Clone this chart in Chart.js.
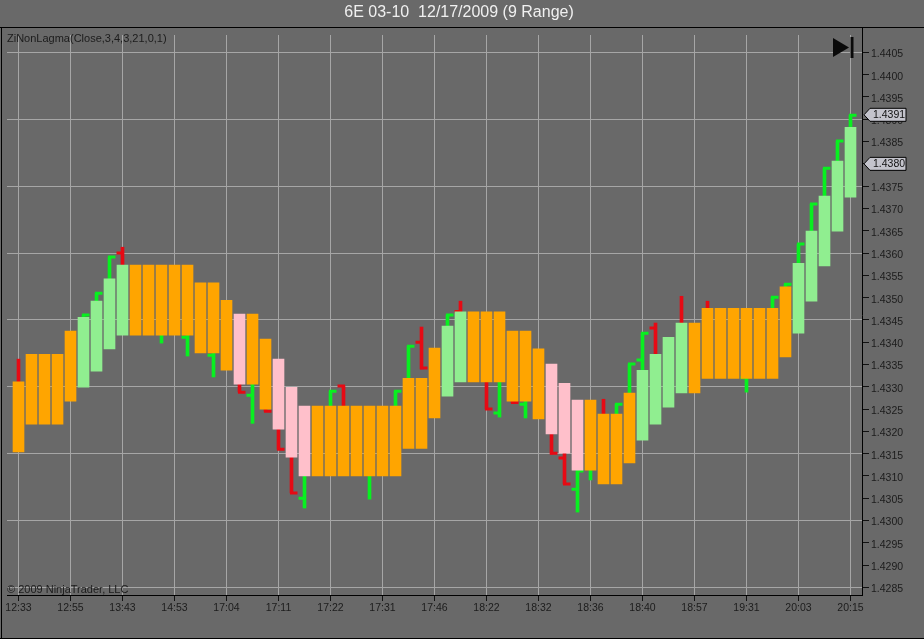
<!DOCTYPE html>
<html>
<head>
<meta charset="utf-8">
<title>6E 03-10</title>
<script src="https://cdn.jsdelivr.net/npm/chart.js@4"></script>
<style>
html, body { margin: 0; padding: 0; background: #696969; overflow: hidden; }
canvas { display: block; }
</style>
</head>
<body>
<canvas id="meuGrafico" width="924" height="639"></canvas>
<script>
// Rotulos do eixo do tempo (um a cada 4 barras)
const timeLabels = ["12:33", "12:55", "13:43", "14:53", "17:04", "17:11", "17:22", "17:31", "17:46",
    "18:22", "18:32", "18:36", "18:40", "18:57", "19:31", "20:03", "20:15"];

// Corpo das barras: topo, base e tipo (O laranja, G verde, P rosa)
const bodyHigh = [1.43311, 1.43373, 1.43373, 1.43373, 1.43425, 1.43456, 1.43492, 1.43542, 1.43573, 1.43573,
    1.43573, 1.43573, 1.43573, 1.43573, 1.43533, 1.43533, 1.43494, 1.43463, 1.43463, 1.43407,
    1.43362, 1.43299, 1.43257, 1.43257, 1.43257, 1.43257, 1.43257, 1.43257, 1.43257, 1.43257,
    1.43319, 1.43319, 1.43387, 1.43436, 1.43468, 1.43468, 1.43468, 1.43468, 1.43425, 1.43425,
    1.43385, 1.43351, 1.43308, 1.43270, 1.43270, 1.43239, 1.43239, 1.43286, 1.43337, 1.43373,
    1.43411, 1.43443, 1.43443, 1.43476, 1.43476, 1.43476, 1.43476, 1.43476, 1.43476, 1.43524,
    1.43577, 1.43649, 1.43728, 1.43806, 1.43882];
const bodyLow = [1.43154, 1.43216, 1.43216, 1.43216, 1.43268, 1.43299, 1.43335, 1.43385, 1.43416, 1.43416,
    1.43416, 1.43416, 1.43416, 1.43416, 1.43376, 1.43376, 1.43337, 1.43306, 1.43306, 1.43250,
    1.43205, 1.43142, 1.43100, 1.43100, 1.43100, 1.43100, 1.43100, 1.43100, 1.43100, 1.43100,
    1.43162, 1.43162, 1.43230, 1.43279, 1.43311, 1.43311, 1.43311, 1.43311, 1.43268, 1.43268,
    1.43228, 1.43194, 1.43151, 1.43113, 1.43113, 1.43082, 1.43082, 1.43129, 1.43180, 1.43216,
    1.43254, 1.43286, 1.43286, 1.43319, 1.43319, 1.43319, 1.43319, 1.43319, 1.43319, 1.43367,
    1.43420, 1.43492, 1.43571, 1.43649, 1.43725];
const bodyKind = ["O", "O", "O", "O", "O", "G", "G", "G", "G", "O",
    "O", "O", "O", "O", "O", "O", "O", "P", "O", "O",
    "P", "P", "P", "O", "O", "O", "O", "O", "O", "O",
    "O", "O", "O", "G", "G", "O", "O", "O", "O", "O",
    "O", "P", "P", "P", "O", "O", "O", "O", "G", "G",
    "G", "G", "O", "O", "O", "O", "O", "O", "O", "O",
    "G", "G", "G", "G", "G"];

// Indicador verde: trechos verticais
const greenWickBar = [5, 6, 7, 11, 13, 15, 18, 22, 24, 27, 29, 30, 33, 37, 39, 43, 44, 46, 47, 48, 56, 58, 59, 60, 61, 62, 63, 64];
const greenWickHigh = [1.43461, 1.43510, 1.43591, 1.43416, 1.43416, 1.43376, 1.43306, 1.43100, 1.43290, 1.43100,
    1.43290, 1.43391, 1.43461, 1.43311, 1.43268, 1.43113, 1.43113, 1.43261, 1.43351, 1.43420,
    1.43319, 1.43501, 1.43530, 1.43620, 1.43710, 1.43790, 1.43851, 1.43909];
const greenWickLow = [1.43456, 1.43492, 1.43542, 1.43398, 1.43369, 1.43322, 1.43218, 1.43028, 1.43257, 1.43048,
    1.43257, 1.43319, 1.43436, 1.43232, 1.43230, 1.43019, 1.43091, 1.43239, 1.43286, 1.43337,
    1.43288, 1.43476, 1.43524, 1.43577, 1.43649, 1.43728, 1.43806, 1.43882];

// Indicador vermelho: trechos verticais
const redWickBar = [0, 8, 17, 19, 20, 21, 25, 31, 34, 36, 38, 41, 42, 45, 49, 51, 53];
const redWickHigh = [1.43362, 1.43613, 1.43306, 1.43250, 1.43205, 1.43142, 1.43302, 1.43434, 1.43492, 1.43311,
    1.43268, 1.43194, 1.43151, 1.43272, 1.43443, 1.43503, 1.43492];
const redWickLow = [1.43311, 1.43573, 1.43288, 1.43245, 1.43160, 1.43062, 1.43257, 1.43340, 1.43468, 1.43250,
    1.43264, 1.43149, 1.43082, 1.43239, 1.43373, 1.43443, 1.43476];

// Pequenos tracos horizontais do indicador
const greenRightBar = [5, 6, 7, 24, 29, 30, 33, 43, 46, 47, 48, 58, 59, 60, 61, 62, 63, 64];
const greenRightPrice = [1.43461, 1.43510, 1.43591, 1.43290, 1.43290, 1.43391, 1.43461, 1.43111, 1.43261, 1.43351,
    1.43420, 1.43501, 1.43530, 1.43620, 1.43710, 1.43790, 1.43851, 1.43909];
const greenLeftBar = [13, 15, 18, 22, 37, 39, 43, 48, 56];
const greenLeftPrice = [1.43411, 1.43371, 1.43281, 1.43050, 1.43241, 1.43261, 1.43070, 1.43360, 1.43320];
const redRightBar = [17, 19, 20, 21, 31, 36, 38, 41, 42];
const redRightPrice = [1.43288, 1.43245, 1.43160, 1.43062, 1.43342, 1.43250, 1.43265, 1.43151, 1.43082];
const redLeftBar = [8, 25, 31, 34, 42, 49];
const redLeftPrice = [1.43600, 1.43302, 1.43400, 1.43469, 1.43140, 1.43432];

// Etiquetas de preco no eixo
const priceMarkers = [1.4391, 1.4380];

const kindColor = { O: "#ffa500", G: "#90ee90", P: "#ffc0cb" };
const greenLine = "#08f020";
const redLine = "#e60a14";

function wickPoints(bars, highs, lows) {
    return bars.map((b, i) => ({ x: b, y: [lows[i], highs[i]] }));
}

// cada traco sai da barra para a direita ou esquerda, cobrindo a largura do trecho vertical
function flagPoints(bars, prices, side) {
    const pts = [];
    bars.forEach((b, i) => {
        pts.push({ x: b - side * 0.115, y: prices[i] }, { x: b + side * 0.46, y: prices[i] }, { x: NaN, y: NaN });
    });
    return pts;
}

function flagDataset(bars, prices, side, color) {
    return {
        type: "line",
        data: flagPoints(bars, prices, side),
        borderColor: color,
        borderWidth: 3,
        pointRadius: 0,
        spanGaps: false,
        order: 3
    };
}

function drawMarker(ctx, y, text) {
    ctx.beginPath();
    ctx.moveTo(864, y);
    ctx.lineTo(870, y - 6.5);
    ctx.lineTo(906, y - 6.5);
    ctx.lineTo(906, y + 6.5);
    ctx.lineTo(870, y + 6.5);
    ctx.closePath();
    ctx.fillStyle = "#c4c4cc";
    ctx.fill();
    ctx.strokeStyle = "#000";
    ctx.lineWidth = 1;
    ctx.stroke();
    ctx.fillStyle = "#111";
    ctx.font = "10.5px 'Liberation Sans'";
    ctx.textAlign = "left";
    ctx.textBaseline = "middle";
    ctx.fillText(text, 873, y + 0.5);
}

// Moldura, titulo e textos da janela do grafico
const janela = {
    id: "janela",
    beforeDraw(chart) {
        const ctx = chart.ctx;
        ctx.save();
        ctx.fillStyle = "#696969";
        ctx.fillRect(0, 0, 924, 639);
        ctx.fillStyle = "#000";
        ctx.fillRect(0, 27, 924, 1);
        ctx.fillRect(1, 27, 1, 612);
        ctx.fillRect(0, 638, 924, 1);
        ctx.fillRect(862, 27, 1, 8);
        ctx.restore();
    },
    afterDraw(chart) {
        const ctx = chart.ctx;
        ctx.save();
        ctx.fillStyle = "#f0f0f0";
        ctx.font = "16px 'Liberation Sans'";
        ctx.textAlign = "center";
        ctx.textBaseline = "middle";
        ctx.fillText("6E 03-10  12/17/2009 (9 Range)", 459, 13);

        ctx.fillStyle = "#1c1c1c";
        ctx.font = "11px 'Liberation Sans'";
        ctx.textAlign = "left";
        ctx.fillText("ZiNonLagma(Close,3,4,3,21,0,1)", 7, 39);
        ctx.fillText("\u00a9 2009 NinjaTrader, LLC", 7, 589.5);

        // icone de ir para o fim
        ctx.fillStyle = "#0a0a0a";
        ctx.beginPath();
        ctx.moveTo(833, 38);
        ctx.lineTo(849, 47.5);
        ctx.lineTo(833, 57);
        ctx.closePath();
        ctx.fill();
        ctx.fillRect(850.5, 37, 3, 21);

        priceMarkers.forEach(p => drawMarker(ctx, chart.scales.y.getPixelForValue(p), p.toFixed(4)));
        ctx.restore();
    }
};

const grafico = new Chart(document.getElementById("meuGrafico"), {
    type: "bar",
    data: {
        datasets: [
            {
                data: bodyHigh.map((h, i) => ({ x: i, y: [bodyLow[i], h] })),
                backgroundColor: bodyKind.map(k => kindColor[k]),
                barThickness: 11,
                grouped: false,
                order: 1
            },
            {
                data: wickPoints(greenWickBar, greenWickHigh, greenWickLow),
                backgroundColor: greenLine,
                barThickness: 3,
                grouped: false,
                order: 2
            },
            {
                data: wickPoints(redWickBar, redWickHigh, redWickLow),
                backgroundColor: redLine,
                barThickness: 3,
                grouped: false,
                order: 2
            },
            flagDataset(greenRightBar, greenRightPrice, 1, greenLine),
            flagDataset(greenLeftBar, greenLeftPrice, -1, greenLine),
            flagDataset(redRightBar, redRightPrice, 1, redLine),
            flagDataset(redLeftBar, redLeftPrice, -1, redLine)
        ]
    },
    plugins: [janela],
    options: {
        responsive: false,
        animation: false,
        devicePixelRatio: 1,
        layout: { padding: { left: 7, top: 35, right: 0, bottom: 0 } },
        plugins: { legend: { display: false }, title: { display: false }, tooltip: { enabled: false } },
        scales: {
            x: {
                type: "linear",
                offset: false,
                min: -0.885,
                max: 64.885,
                afterFit(axis) { axis.height = 44; },
                border: { color: "#000", width: 1 },
                grid: { offset: false, color: "#a6a6a6", tickColor: "#111", tickLength: 6 },
                ticks: {
                    stepSize: 4,
                    includeBounds: false,
                    autoSkip: false,
                    maxRotation: 0,
                    padding: 1,
                    color: "#1c1c1c",
                    font: { family: "'Liberation Sans'", size: 10.5 },
                    callback: v => timeLabels[v / 4]
                }
            },
            y: {
                position: "right",
                min: 1.42833,
                max: 1.44089,
                afterFit(axis) { axis.width = 62; },
                border: { color: "#000", width: 1 },
                grid: {
                    // so uma linha a cada tres marcas
                    color: c => Math.round(c.tick.value * 10000) % 15 === 5 ? "#a6a6a6" : "transparent",
                    tickColor: "#111",
                    tickLength: 7
                },
                ticks: {
                    stepSize: 0.0005,
                    includeBounds: false,
                    autoSkip: false,
                    padding: 2,
                    labelOffset: 2,
                    color: "#1c1c1c",
                    font: { family: "'Liberation Sans'", size: 10.5 },
                    callback: v => v.toFixed(4)
                }
            }
        }
    }
});
</script>
</body>
</html>
